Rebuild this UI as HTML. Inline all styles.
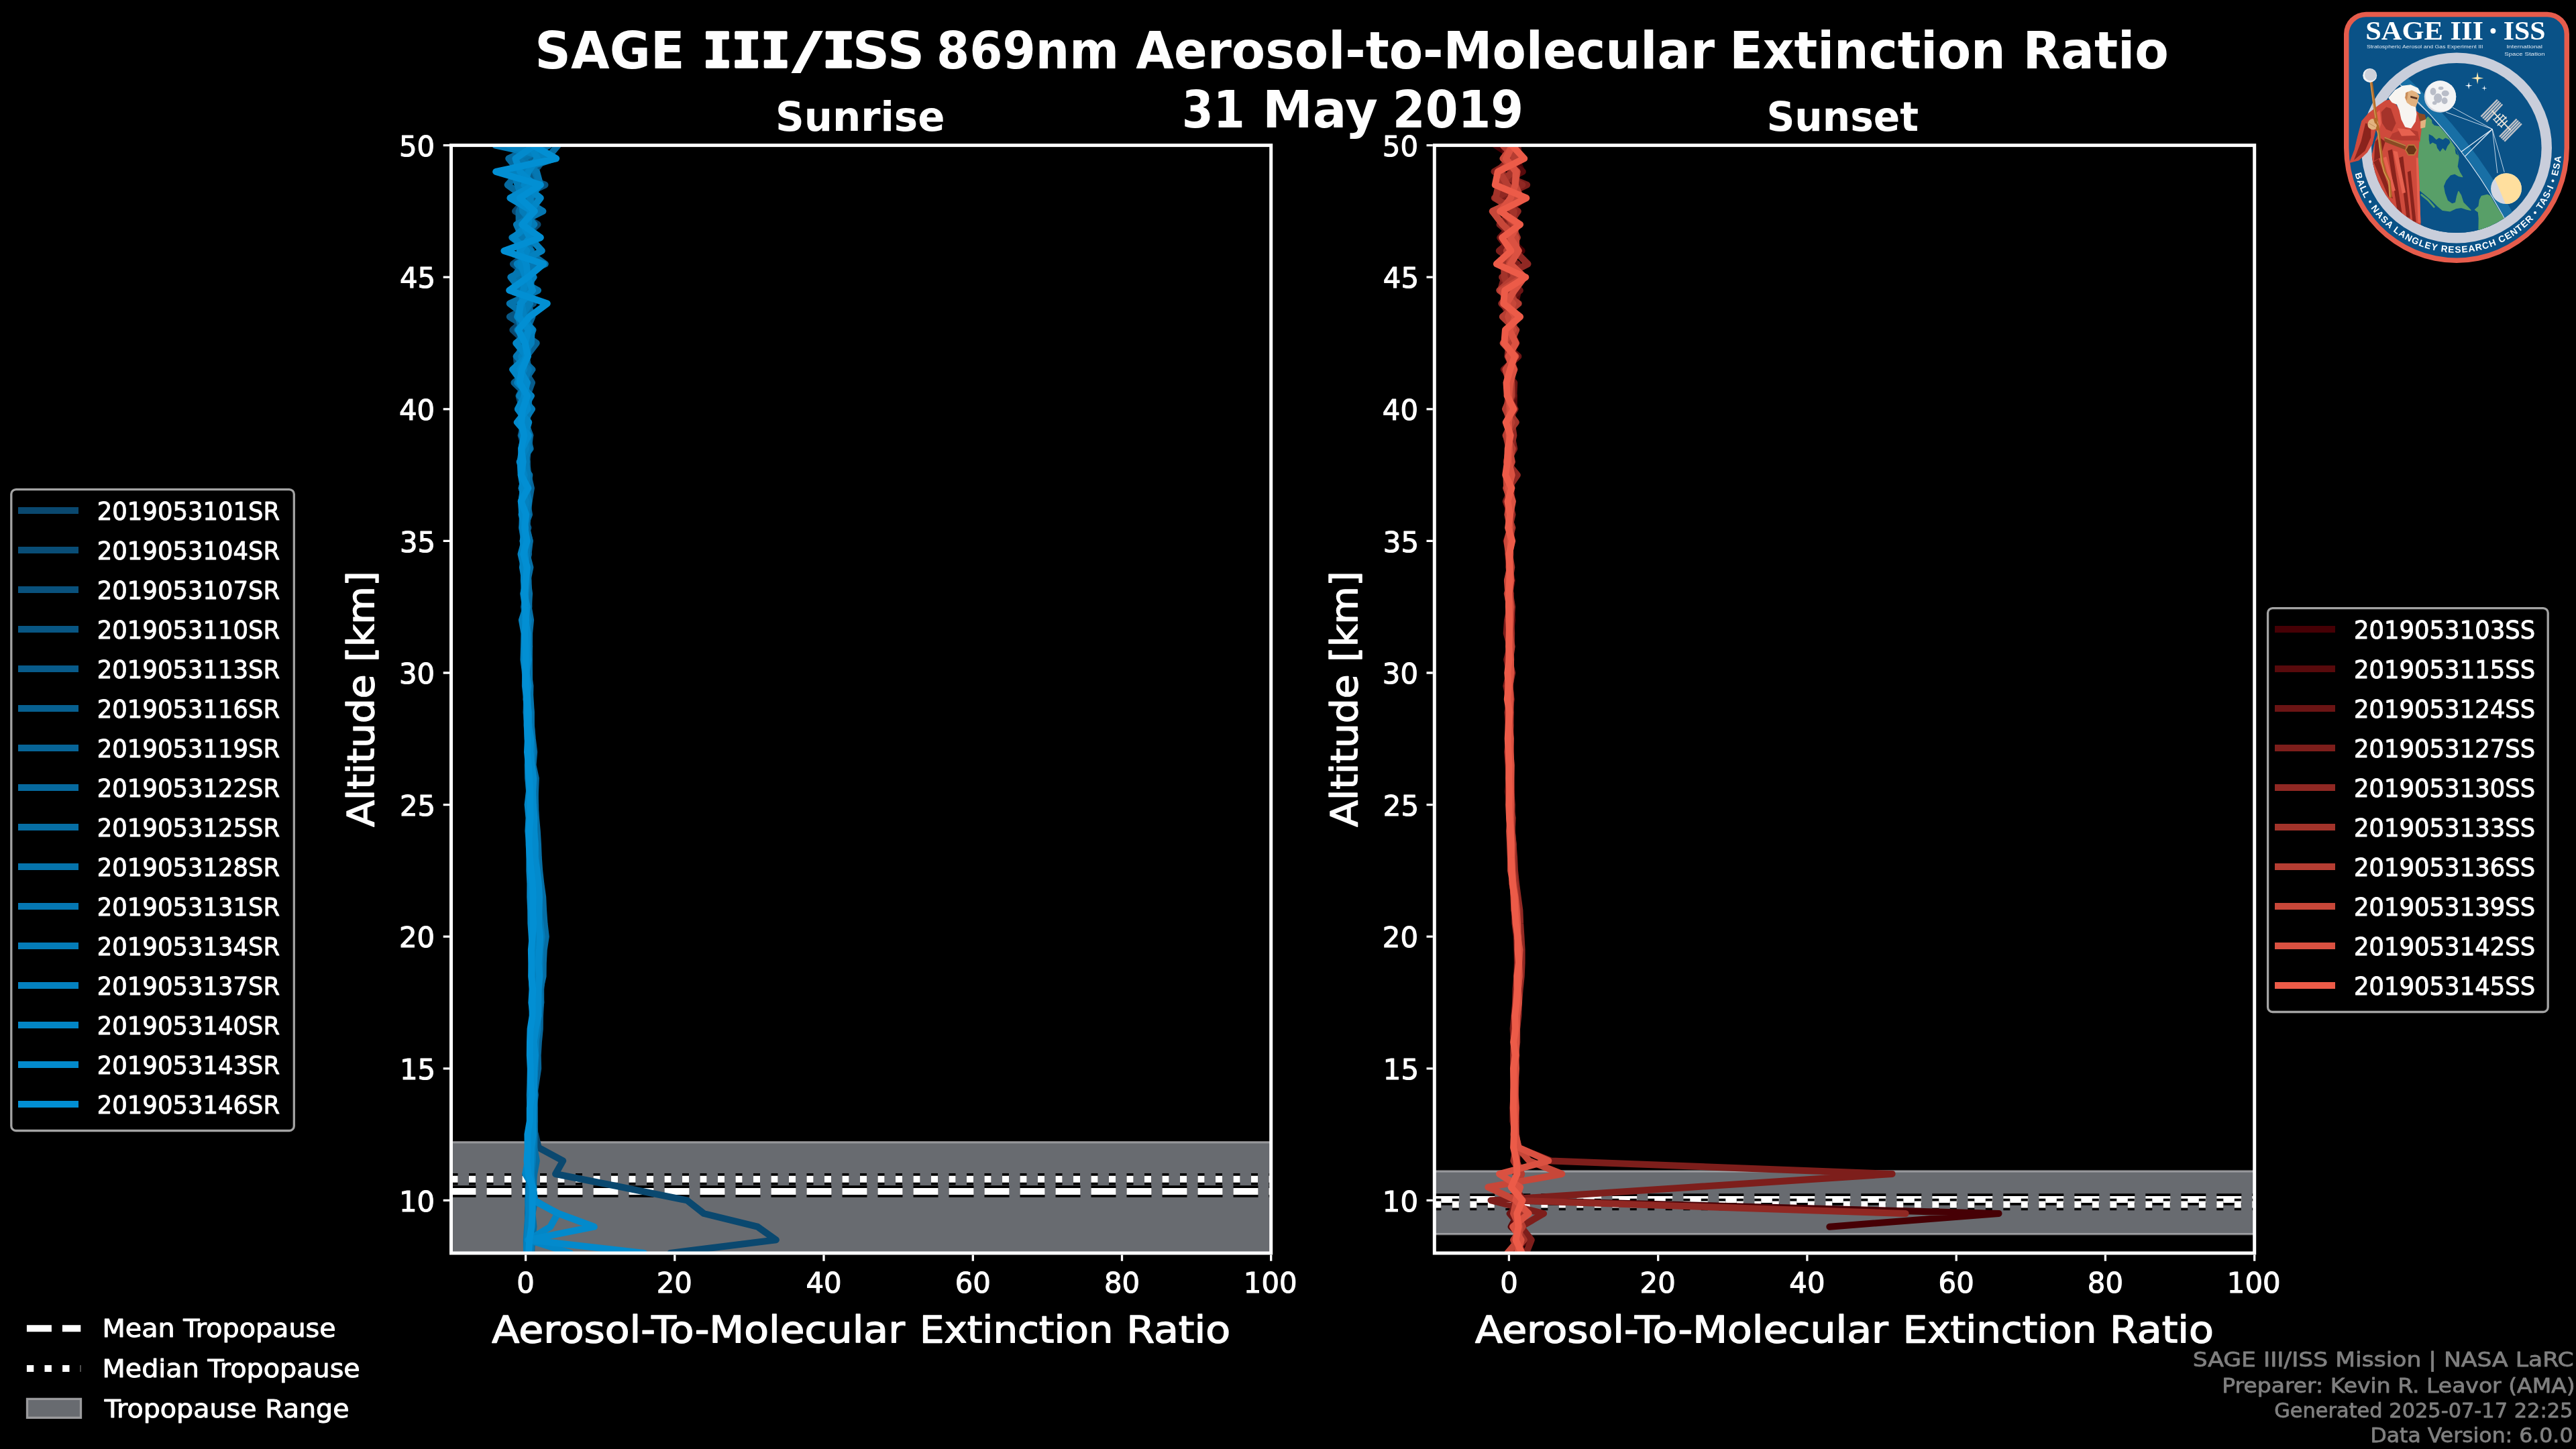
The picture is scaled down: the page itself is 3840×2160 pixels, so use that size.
<!DOCTYPE html>
<html lang="en"><head><meta charset="utf-8"><title>SAGE III/ISS 869nm Aerosol-to-Molecular Extinction Ratio</title>
<style>html,body{margin:0;padding:0;background:#000;overflow:hidden}svg{display:block}text{font-family:"DejaVu Sans", "Liberation Sans", sans-serif}</style></head>
<body><svg width="3840" height="2160" viewBox="0 0 3840 2160">
<rect width="3840" height="2160" fill="#000"/>
<clipPath id="clipL"><rect x="672.5" y="216.6" width="1222.2" height="1651.4"/></clipPath>
<g clip-path="url(#clipL)">
<rect x="662.5" y="1702.7" width="1242.2" height="197.3" fill="#686b70"/>
<path d="M662.5 1702.7H1904.7M662.5 1900H1904.7" stroke="#cdcdd0" stroke-opacity="0.6" stroke-width="3.33" fill="none"/>
<path d="M672.5 1776.0H1894.7" stroke="#000" stroke-width="17.5" stroke-dasharray="37 16" fill="none"/>
<path d="M672.5 1776.0H1894.7" stroke="#fff" stroke-width="10" stroke-dasharray="37 16" fill="none"/>
<path d="M672.5 1757.7H1894.7" stroke="#000" stroke-width="17.5" stroke-dasharray="10 16.5" fill="none"/>
<path d="M672.5 1757.7H1894.7" stroke="#fff" stroke-width="10" stroke-dasharray="10 16.5" fill="none"/>
<g fill="none" stroke-width="10" stroke-linejoin="round" stroke-linecap="round">
<polyline points="999.2,1868.0 1156.9,1848.3 1129.2,1828.7 1049.2,1809.0 1024.2,1789.4 926.9,1769.7 828.1,1750.0 839.2,1730.4 802.7,1710.7 798.1,1691.1 790.8,1671.4 791.8,1651.7 791.4,1632.1 793.5,1612.4 795.7,1592.8 795.6,1573.1 796.9,1553.4 796.7,1533.8 797.1,1514.1 797.4,1494.5 800.3,1474.8 799.2,1455.2 801.7,1435.5 802.2,1415.8 803.4,1396.2 799.8,1376.5 800.0,1356.9 797.7,1337.2 796.0,1317.5 794.0,1297.9 793.1,1278.2 791.6,1258.6 790.2,1238.9 790.6,1219.2 788.0,1199.6 789.2,1179.9 789.3,1160.3 787.0,1140.6 788.9,1120.9 789.5,1101.3 788.6,1081.6 787.8,1062.0 787.9,1042.3 787.9,1022.6 784.2,1003.0 787.8,983.3 784.3,963.7 783.9,944.0 787.1,924.3 782.8,904.7 781.2,885.0 783.4,865.4 783.4,845.7 782.1,826.0 784.2,806.4 781.0,786.7 783.6,767.1 784.2,747.4 778.8,727.7 784.0,708.1 779.5,688.4 782.7,668.8 776.5,649.1 781.3,629.5 779.7,609.8 785.9,590.1 785.3,570.5 772.7,550.8 781.0,531.2 785.4,511.5 764.3,491.8 786.1,472.2 779.2,452.5 794.6,432.9 782.4,413.2 779.3,393.5 780.4,373.9 780.4,354.2 801.5,334.6 768.0,314.9 786.2,295.2 788.2,275.6 780.2,255.9 782.9,236.3 763.9,216.6" stroke="#0a486f"/>
<polyline points="785.6,1868.0 785.4,1848.3 787.3,1828.7 788.2,1809.0 789.0,1789.4 789.9,1769.7 789.7,1750.0 789.9,1730.4 791.0,1710.7 791.8,1691.1 791.9,1671.4 792.8,1651.7 793.3,1632.1 792.5,1612.4 794.0,1592.8 795.7,1573.1 796.2,1553.4 799.4,1533.8 797.6,1514.1 800.8,1494.5 800.6,1474.8 800.8,1455.2 802.3,1435.5 804.4,1415.8 805.9,1396.2 803.7,1376.5 802.6,1356.9 798.6,1337.2 799.4,1317.5 798.3,1297.9 795.5,1278.2 794.6,1258.6 793.9,1238.9 792.7,1219.2 791.9,1199.6 791.0,1179.9 789.8,1160.3 789.3,1140.6 789.9,1120.9 786.6,1101.3 785.6,1081.6 785.9,1062.0 784.6,1042.3 785.0,1022.6 782.7,1003.0 783.8,983.3 782.4,963.7 782.4,944.0 783.3,924.3 781.2,904.7 783.7,885.0 782.6,865.4 786.9,845.7 778.8,826.0 786.6,806.4 780.1,786.7 782.4,767.1 777.1,747.4 781.6,727.7 783.0,708.1 779.8,688.4 782.6,668.8 780.6,649.1 787.0,629.5 778.9,609.8 773.4,590.1 783.8,570.5 771.7,550.8 769.6,531.2 786.3,511.5 790.9,491.8 780.7,472.2 775.2,452.5 778.2,432.9 795.6,413.2 778.2,393.5 784.6,373.9 780.5,354.2 784.4,334.6 793.2,314.9 786.7,295.2 785.4,275.6 764.4,255.9 802.4,236.3 764.0,216.6" stroke="#094d76"/>
<polyline points="788.1,1868.0 787.4,1848.3 789.8,1828.7 788.2,1809.0 788.7,1789.4 790.2,1769.7 792.0,1750.0 791.7,1730.4 791.2,1710.7 791.1,1691.1 790.3,1671.4 791.5,1651.7 792.9,1632.1 791.2,1612.4 792.7,1592.8 793.5,1573.1 795.0,1553.4 794.3,1533.8 795.2,1514.1 796.5,1494.5 798.4,1474.8 801.6,1455.2 801.5,1435.5 803.3,1415.8 803.9,1396.2 803.3,1376.5 803.5,1356.9 801.4,1337.2 799.6,1317.5 797.9,1297.9 797.1,1278.2 796.3,1258.6 794.7,1238.9 794.1,1219.2 792.8,1199.6 790.4,1179.9 792.0,1160.3 788.6,1140.6 789.0,1120.9 788.1,1101.3 789.6,1081.6 787.9,1062.0 786.0,1042.3 784.5,1022.6 785.2,1003.0 785.0,983.3 782.9,963.7 786.6,944.0 783.8,924.3 785.2,904.7 781.6,885.0 782.8,865.4 780.8,845.7 788.1,826.0 779.6,806.4 787.4,786.7 778.2,767.1 784.4,747.4 777.5,727.7 784.9,708.1 786.0,688.4 778.5,668.8 790.4,649.1 781.5,629.5 779.6,609.8 782.9,590.1 781.7,570.5 784.5,550.8 780.0,531.2 778.9,511.5 781.8,491.8 774.5,472.2 775.3,452.5 785.8,432.9 790.5,413.2 764.9,393.5 792.7,373.9 772.2,354.2 777.3,334.6 796.8,314.9 770.2,295.2 812.5,275.6 755.2,255.9 804.7,236.3 770.4,216.6" stroke="#09517c"/>
<polyline points="786.7,1868.0 786.8,1848.3 788.2,1828.7 787.5,1809.0 787.9,1789.4 787.6,1769.7 790.5,1750.0 791.1,1730.4 791.9,1710.7 791.8,1691.1 791.6,1671.4 791.7,1651.7 794.0,1632.1 792.7,1612.4 794.1,1592.8 795.0,1573.1 794.7,1553.4 796.0,1533.8 796.4,1514.1 797.6,1494.5 797.6,1474.8 798.3,1455.2 799.3,1435.5 800.1,1415.8 802.6,1396.2 802.7,1376.5 803.0,1356.9 803.1,1337.2 800.3,1317.5 800.1,1297.9 800.6,1278.2 796.8,1258.6 795.9,1238.9 796.0,1219.2 796.3,1199.6 792.5,1179.9 790.8,1160.3 789.8,1140.6 788.5,1120.9 786.8,1101.3 785.9,1081.6 784.6,1062.0 785.0,1042.3 785.0,1022.6 783.4,1003.0 783.1,983.3 784.0,963.7 782.1,944.0 783.5,924.3 783.4,904.7 783.0,885.0 783.5,865.4 781.9,845.7 780.7,826.0 781.4,806.4 778.0,786.7 779.0,767.1 784.7,747.4 780.2,727.7 783.5,708.1 777.1,688.4 784.8,668.8 779.9,649.1 781.2,629.5 774.8,609.8 787.6,590.1 788.0,570.5 785.0,550.8 781.3,531.2 786.9,511.5 789.7,491.8 759.8,472.2 795.0,452.5 784.5,432.9 791.2,413.2 798.9,393.5 790.1,373.9 785.3,354.2 787.0,334.6 791.3,314.9 771.7,295.2 787.4,275.6 796.3,255.9 811.5,236.3 766.0,216.6" stroke="#085683"/>
<polyline points="785.5,1868.0 787.0,1848.3 786.9,1828.7 787.0,1809.0 788.7,1789.4 789.5,1769.7 789.9,1750.0 791.3,1730.4 793.2,1710.7 795.4,1691.1 793.5,1671.4 794.8,1651.7 795.2,1632.1 795.3,1612.4 795.8,1592.8 795.6,1573.1 796.0,1553.4 795.8,1533.8 797.1,1514.1 795.2,1494.5 795.7,1474.8 796.2,1455.2 797.4,1435.5 796.7,1415.8 798.3,1396.2 795.9,1376.5 796.3,1356.9 796.0,1337.2 796.0,1317.5 794.0,1297.9 795.2,1278.2 793.8,1258.6 792.8,1238.9 792.9,1219.2 791.6,1199.6 793.1,1179.9 793.7,1160.3 792.2,1140.6 790.6,1120.9 790.7,1101.3 790.5,1081.6 790.1,1062.0 790.0,1042.3 790.6,1022.6 787.2,1003.0 788.4,983.3 786.7,963.7 788.8,944.0 781.9,924.3 785.6,904.7 783.7,885.0 786.3,865.4 784.3,845.7 786.0,826.0 779.8,806.4 786.9,786.7 780.9,767.1 783.2,747.4 785.8,727.7 781.5,708.1 780.5,688.4 787.0,668.8 779.3,649.1 785.3,629.5 786.5,609.8 785.8,590.1 793.0,570.5 780.5,550.8 777.8,531.2 782.4,511.5 778.0,491.8 776.7,472.2 789.9,452.5 774.7,432.9 769.2,413.2 797.6,393.5 776.1,373.9 791.6,354.2 781.6,334.6 792.9,314.9 780.8,295.2 806.7,275.6 784.6,255.9 796.7,236.3 791.9,216.6" stroke="#085b8a"/>
<polyline points="787.0,1868.0 788.5,1848.3 788.9,1828.7 792.0,1809.0 792.4,1789.4 795.7,1769.7 794.3,1750.0 795.3,1730.4 796.5,1710.7 797.2,1691.1 796.6,1671.4 796.7,1651.7 795.6,1632.1 794.1,1612.4 794.7,1592.8 793.3,1573.1 792.7,1553.4 793.6,1533.8 795.3,1514.1 795.1,1494.5 795.3,1474.8 794.7,1455.2 795.5,1435.5 794.2,1415.8 796.5,1396.2 796.6,1376.5 795.2,1356.9 796.3,1337.2 793.4,1317.5 792.6,1297.9 791.6,1278.2 791.9,1258.6 792.3,1238.9 792.7,1219.2 794.6,1199.6 794.5,1179.9 791.7,1160.3 792.8,1140.6 791.0,1120.9 791.4,1101.3 790.5,1081.6 791.0,1062.0 788.9,1042.3 787.2,1022.6 786.2,1003.0 787.1,983.3 784.6,963.7 786.1,944.0 784.6,924.3 783.9,904.7 787.2,885.0 781.5,865.4 785.5,845.7 781.3,826.0 787.4,806.4 784.1,786.7 777.4,767.1 782.5,747.4 784.5,727.7 785.1,708.1 785.1,688.4 781.1,668.8 783.3,649.1 782.8,629.5 779.5,609.8 786.6,590.1 766.4,570.5 790.9,550.8 771.5,531.2 793.5,511.5 773.9,491.8 778.7,472.2 788.1,452.5 773.3,432.9 780.2,413.2 771.1,393.5 790.7,373.9 788.1,354.2 795.4,334.6 776.3,314.9 799.9,295.2 774.9,275.6 786.1,255.9 792.2,236.3 799.6,216.6" stroke="#076090"/>
<polyline points="785.6,1868.0 788.3,1848.3 788.2,1828.7 789.9,1809.0 791.0,1789.4 789.9,1769.7 792.1,1750.0 793.8,1730.4 794.4,1710.7 794.9,1691.1 796.7,1671.4 796.7,1651.7 796.2,1632.1 799.2,1612.4 802.2,1592.8 801.7,1573.1 802.9,1553.4 804.8,1533.8 805.0,1514.1 806.2,1494.5 806.2,1474.8 808.1,1455.2 806.0,1435.5 805.7,1415.8 805.0,1396.2 804.4,1376.5 803.2,1356.9 802.9,1337.2 801.2,1317.5 799.7,1297.9 798.8,1278.2 797.5,1258.6 796.7,1238.9 798.3,1219.2 798.2,1199.6 797.3,1179.9 794.2,1160.3 794.1,1140.6 791.0,1120.9 791.4,1101.3 791.2,1081.6 789.1,1062.0 789.4,1042.3 787.6,1022.6 788.2,1003.0 784.3,983.3 784.1,963.7 786.0,944.0 783.8,924.3 788.4,904.7 787.9,885.0 787.6,865.4 785.5,845.7 787.5,826.0 789.8,806.4 785.1,786.7 786.7,767.1 788.6,747.4 791.9,727.7 787.3,708.1 785.3,688.4 786.8,668.8 787.1,649.1 781.6,629.5 782.0,609.8 788.0,590.1 780.8,570.5 787.7,550.8 784.7,531.2 799.7,511.5 770.8,491.8 791.0,472.2 781.1,452.5 791.1,432.9 791.9,413.2 777.1,393.5 780.3,373.9 768.4,354.2 782.8,334.6 795.1,314.9 783.7,295.2 774.4,275.6 788.6,255.9 787.6,236.3 797.4,216.6" stroke="#076497"/>
<polyline points="788.4,1868.0 789.9,1848.3 789.2,1828.7 791.8,1809.0 789.9,1789.4 792.7,1769.7 792.3,1750.0 793.7,1730.4 794.0,1710.7 794.6,1691.1 794.4,1671.4 794.4,1651.7 794.7,1632.1 794.7,1612.4 795.2,1592.8 795.9,1573.1 797.0,1553.4 798.1,1533.8 798.8,1514.1 801.4,1494.5 800.5,1474.8 802.9,1455.2 805.5,1435.5 806.5,1415.8 809.9,1396.2 807.3,1376.5 808.9,1356.9 805.1,1337.2 801.9,1317.5 803.3,1297.9 800.3,1278.2 801.0,1258.6 798.5,1238.9 798.0,1219.2 797.3,1199.6 798.0,1179.9 798.8,1160.3 794.5,1140.6 796.2,1120.9 793.8,1101.3 792.0,1081.6 790.6,1062.0 787.8,1042.3 788.3,1022.6 783.9,1003.0 787.8,983.3 783.4,963.7 786.3,944.0 784.8,924.3 781.5,904.7 785.8,885.0 786.3,865.4 787.8,845.7 784.7,826.0 785.6,806.4 781.3,786.7 789.0,767.1 785.5,747.4 782.7,727.7 782.6,708.1 777.9,688.4 787.8,668.8 790.1,649.1 783.3,629.5 790.4,609.8 784.3,590.1 780.0,570.5 793.4,550.8 773.5,531.2 789.2,511.5 785.1,491.8 793.4,472.2 787.0,452.5 789.9,432.9 775.9,413.2 775.9,393.5 789.4,373.9 774.1,354.2 773.7,334.6 773.5,314.9 783.2,295.2 756.6,275.6 774.3,255.9 758.2,236.3 799.9,216.6" stroke="#06699e"/>
<polyline points="792.2,1868.0 793.0,1848.3 795.5,1828.7 793.4,1809.0 797.4,1789.4 794.4,1769.7 796.2,1750.0 799.8,1730.4 796.3,1710.7 796.0,1691.1 796.5,1671.4 795.6,1651.7 797.8,1632.1 795.5,1612.4 796.8,1592.8 797.8,1573.1 799.0,1553.4 801.5,1533.8 802.1,1514.1 806.3,1494.5 805.1,1474.8 809.6,1455.2 809.8,1435.5 810.8,1415.8 813.8,1396.2 811.5,1376.5 810.1,1356.9 809.2,1337.2 806.4,1317.5 804.2,1297.9 802.8,1278.2 802.0,1258.6 800.8,1238.9 799.0,1219.2 797.4,1199.6 796.8,1179.9 795.9,1160.3 794.1,1140.6 793.6,1120.9 793.1,1101.3 791.8,1081.6 791.8,1062.0 790.6,1042.3 788.8,1022.6 789.0,1003.0 788.9,983.3 789.0,963.7 789.1,944.0 791.1,924.3 787.7,904.7 789.1,885.0 786.3,865.4 790.4,845.7 785.3,826.0 789.7,806.4 784.4,786.7 786.9,767.1 781.2,747.4 786.2,727.7 789.3,708.1 776.3,688.4 790.6,668.8 785.5,649.1 783.9,629.5 787.4,609.8 788.6,590.1 778.4,570.5 790.0,550.8 778.0,531.2 784.4,511.5 781.1,491.8 787.4,472.2 786.3,452.5 789.7,432.9 770.0,413.2 812.8,393.5 784.4,373.9 793.8,354.2 776.6,334.6 787.9,314.9 791.5,295.2 789.1,275.6 753.9,255.9 815.3,236.3 831.8,216.6" stroke="#066ea4"/>
<polyline points="786.0,1868.0 787.6,1848.3 787.3,1828.7 789.6,1809.0 789.1,1789.4 789.1,1769.7 791.0,1750.0 792.3,1730.4 790.8,1710.7 791.9,1691.1 792.0,1671.4 793.1,1651.7 792.5,1632.1 794.5,1612.4 794.2,1592.8 796.6,1573.1 795.7,1553.4 797.5,1533.8 797.5,1514.1 800.5,1494.5 803.6,1474.8 802.6,1455.2 802.8,1435.5 804.1,1415.8 807.2,1396.2 803.3,1376.5 805.2,1356.9 803.2,1337.2 802.1,1317.5 799.3,1297.9 798.4,1278.2 794.8,1258.6 794.4,1238.9 796.2,1219.2 795.1,1199.6 793.7,1179.9 792.1,1160.3 792.4,1140.6 792.8,1120.9 791.2,1101.3 791.2,1081.6 791.6,1062.0 789.7,1042.3 789.4,1022.6 788.8,1003.0 785.6,983.3 789.2,963.7 785.5,944.0 783.7,924.3 785.3,904.7 781.5,885.0 783.0,865.4 782.5,845.7 783.3,826.0 782.9,806.4 782.5,786.7 783.7,767.1 778.5,747.4 787.9,727.7 777.9,708.1 785.0,688.4 781.8,668.8 778.9,649.1 778.5,629.5 780.2,609.8 783.7,590.1 784.0,570.5 782.7,550.8 773.5,531.2 778.2,511.5 774.8,491.8 785.6,472.2 759.7,452.5 802.0,432.9 765.5,413.2 780.1,393.5 785.4,373.9 791.2,354.2 782.7,334.6 797.0,314.9 779.5,295.2 805.3,275.6 797.0,255.9 779.1,236.3 818.2,216.6" stroke="#0573ab"/>
<polyline points="785.1,1868.0 784.8,1848.3 786.1,1828.7 787.8,1809.0 787.1,1789.4 788.8,1769.7 791.3,1750.0 791.1,1730.4 792.1,1710.7 794.0,1691.1 793.3,1671.4 795.4,1651.7 795.3,1632.1 795.8,1612.4 797.5,1592.8 798.7,1573.1 799.0,1553.4 798.2,1533.8 800.6,1514.1 799.2,1494.5 801.8,1474.8 801.4,1455.2 802.7,1435.5 804.2,1415.8 804.9,1396.2 803.1,1376.5 800.7,1356.9 797.1,1337.2 796.2,1317.5 794.7,1297.9 794.7,1278.2 790.7,1258.6 790.6,1238.9 789.8,1219.2 789.2,1199.6 789.3,1179.9 787.2,1160.3 786.8,1140.6 788.0,1120.9 786.7,1101.3 786.6,1081.6 784.8,1062.0 785.5,1042.3 784.3,1022.6 784.4,1003.0 783.3,983.3 782.6,963.7 782.7,944.0 781.8,924.3 783.1,904.7 780.2,885.0 785.0,865.4 780.2,845.7 785.2,826.0 780.3,806.4 781.4,786.7 786.1,767.1 779.1,747.4 779.9,727.7 780.9,708.1 781.1,688.4 788.7,668.8 777.6,649.1 785.6,629.5 772.0,609.8 784.2,590.1 780.7,570.5 787.8,550.8 769.9,531.2 786.6,511.5 777.6,491.8 772.7,472.2 783.5,452.5 776.8,432.9 761.3,413.2 798.6,393.5 781.5,373.9 778.8,354.2 769.9,334.6 809.4,314.9 776.8,295.2 805.4,275.6 800.0,255.9 769.8,236.3 809.3,216.6" stroke="#0577b2"/>
<polyline points="791.0,1868.0 791.8,1848.3 790.7,1828.7 790.8,1809.0 794.3,1789.4 794.2,1769.7 792.0,1750.0 793.8,1730.4 794.7,1710.7 795.6,1691.1 794.8,1671.4 793.4,1651.7 795.6,1632.1 795.6,1612.4 797.3,1592.8 796.4,1573.1 798.4,1553.4 801.4,1533.8 801.3,1514.1 804.2,1494.5 803.0,1474.8 804.6,1455.2 805.0,1435.5 805.4,1415.8 807.6,1396.2 805.5,1376.5 802.8,1356.9 800.0,1337.2 800.1,1317.5 800.1,1297.9 799.0,1278.2 798.2,1258.6 796.6,1238.9 795.6,1219.2 794.2,1199.6 793.2,1179.9 793.2,1160.3 791.4,1140.6 793.5,1120.9 792.1,1101.3 788.4,1081.6 787.7,1062.0 786.8,1042.3 785.3,1022.6 784.4,1003.0 788.2,983.3 785.0,963.7 784.8,944.0 787.9,924.3 783.4,904.7 784.0,885.0 785.5,865.4 783.6,845.7 785.0,826.0 785.8,806.4 782.5,786.7 784.1,767.1 788.2,747.4 784.1,727.7 785.7,708.1 783.9,688.4 784.6,668.8 788.0,649.1 780.2,629.5 793.0,609.8 774.3,590.1 786.2,570.5 774.8,550.8 786.4,531.2 787.0,511.5 794.5,491.8 776.6,472.2 790.2,452.5 781.2,432.9 782.3,413.2 776.6,393.5 791.4,373.9 763.3,354.2 796.4,334.6 779.0,314.9 778.2,295.2 771.5,275.6 766.1,255.9 827.4,236.3 738.5,216.6" stroke="#047cb8"/>
<polyline points="784.8,1868.0 786.0,1848.3 787.3,1828.7 787.8,1809.0 788.4,1789.4 789.7,1769.7 791.7,1750.0 790.4,1730.4 791.2,1710.7 791.1,1691.1 790.0,1671.4 790.2,1651.7 789.8,1632.1 790.5,1612.4 791.1,1592.8 793.2,1573.1 791.8,1553.4 794.6,1533.8 796.0,1514.1 798.5,1494.5 798.9,1474.8 797.2,1455.2 798.5,1435.5 799.0,1415.8 800.5,1396.2 797.5,1376.5 798.3,1356.9 797.3,1337.2 794.8,1317.5 795.2,1297.9 794.6,1278.2 791.7,1258.6 793.6,1238.9 791.5,1219.2 791.5,1199.6 791.7,1179.9 790.9,1160.3 789.4,1140.6 789.9,1120.9 786.9,1101.3 788.4,1081.6 785.9,1062.0 785.1,1042.3 782.9,1022.6 783.1,1003.0 780.5,983.3 781.1,963.7 781.5,944.0 777.9,924.3 784.3,904.7 782.2,885.0 780.9,865.4 781.1,845.7 776.5,826.0 781.9,806.4 778.5,786.7 781.1,767.1 784.0,747.4 777.7,727.7 782.2,708.1 774.6,688.4 783.9,668.8 780.6,649.1 779.5,629.5 779.8,609.8 791.9,590.1 771.2,570.5 781.5,550.8 777.2,531.2 791.9,511.5 792.5,491.8 780.8,472.2 778.0,452.5 782.4,432.9 795.2,413.2 770.7,393.5 807.8,373.9 789.7,354.2 782.5,334.6 793.6,314.9 790.1,295.2 804.6,275.6 754.8,255.9 818.2,236.3 758.1,216.6" stroke="#0481bf"/>
<polyline points="850.3,1868.0 788.1,1848.3 820.3,1828.7 831.4,1809.0 796.9,1789.4 794.7,1769.7 783.2,1750.0 787.0,1730.4 788.6,1710.7 790.0,1691.1 790.4,1671.4 792.1,1651.7 792.4,1632.1 793.8,1612.4 795.1,1592.8 793.2,1573.1 793.5,1553.4 793.0,1533.8 794.9,1514.1 792.3,1494.5 793.5,1474.8 792.6,1455.2 794.1,1435.5 793.9,1415.8 792.7,1396.2 791.4,1376.5 791.2,1356.9 790.3,1337.2 790.4,1317.5 789.4,1297.9 789.4,1278.2 789.1,1258.6 787.4,1238.9 788.5,1219.2 786.6,1199.6 788.9,1179.9 788.5,1160.3 788.0,1140.6 789.0,1120.9 787.1,1101.3 788.4,1081.6 787.1,1062.0 785.4,1042.3 786.0,1022.6 784.7,1003.0 784.8,983.3 783.5,963.7 784.5,944.0 782.2,924.3 784.0,904.7 781.0,885.0 782.5,865.4 778.9,845.7 781.9,826.0 781.5,806.4 779.7,786.7 778.6,767.1 777.1,747.4 782.3,727.7 780.1,708.1 778.0,688.4 777.2,668.8 782.4,649.1 788.2,629.5 772.0,609.8 781.9,590.1 778.7,570.5 764.2,550.8 785.5,531.2 769.2,511.5 792.6,491.8 771.2,472.2 777.9,452.5 780.1,432.9 783.7,413.2 776.0,393.5 785.5,373.9 765.7,354.2 787.6,334.6 790.3,314.9 805.8,295.2 781.3,275.6 787.5,255.9 801.0,236.3 791.3,216.6" stroke="#0386c6"/>
<polyline points="960.3,1868.0 786.9,1848.3 885.8,1828.7 832.5,1809.0 794.7,1789.4 793.6,1769.7 790.7,1750.0 791.5,1730.4 792.1,1710.7 794.6,1691.1 794.9,1671.4 795.3,1651.7 795.8,1632.1 796.3,1612.4 796.2,1592.8 797.8,1573.1 795.8,1553.4 798.5,1533.8 802.7,1514.1 801.9,1494.5 802.5,1474.8 804.2,1455.2 802.7,1435.5 804.0,1415.8 805.1,1396.2 802.9,1376.5 803.3,1356.9 804.0,1337.2 802.9,1317.5 800.6,1297.9 797.3,1278.2 797.6,1258.6 796.0,1238.9 796.5,1219.2 794.8,1199.6 794.1,1179.9 795.2,1160.3 792.7,1140.6 790.4,1120.9 791.2,1101.3 787.8,1081.6 788.0,1062.0 784.6,1042.3 787.3,1022.6 784.7,1003.0 786.9,983.3 786.1,963.7 786.7,944.0 783.0,924.3 785.8,904.7 781.3,885.0 783.7,865.4 784.5,845.7 782.3,826.0 779.6,806.4 783.3,786.7 778.1,767.1 777.3,747.4 780.2,727.7 776.7,708.1 775.6,688.4 778.3,668.8 787.8,649.1 770.8,629.5 786.5,609.8 781.6,590.1 785.6,570.5 774.9,550.8 785.0,531.2 782.9,511.5 787.9,491.8 773.7,472.2 775.6,452.5 794.1,432.9 786.7,413.2 784.6,393.5 774.7,373.9 789.6,354.2 779.2,334.6 793.7,314.9 760.4,295.2 796.1,275.6 775.1,255.9 768.4,236.3 796.8,216.6" stroke="#038acc"/>
<polyline points="788.1,1868.0 789.2,1848.3 792.5,1828.7 793.6,1809.0 793.6,1789.4 793.6,1769.7 787.6,1750.0 785.5,1730.4 786.7,1710.7 786.4,1691.1 789.8,1671.4 789.8,1651.7 792.7,1632.1 790.9,1612.4 790.8,1592.8 789.8,1573.1 790.0,1553.4 790.6,1533.8 793.7,1514.1 793.5,1494.5 794.3,1474.8 792.2,1455.2 792.3,1435.5 791.9,1415.8 793.7,1396.2 795.0,1376.5 794.0,1356.9 794.6,1337.2 793.8,1317.5 791.7,1297.9 789.8,1278.2 788.6,1258.6 789.0,1238.9 790.6,1219.2 790.4,1199.6 790.4,1179.9 789.1,1160.3 787.9,1140.6 786.0,1120.9 786.9,1101.3 785.8,1081.6 786.4,1062.0 786.1,1042.3 784.3,1022.6 783.5,1003.0 783.5,983.3 783.3,963.7 782.3,944.0 784.0,924.3 782.8,904.7 782.3,885.0 783.7,865.4 785.9,845.7 780.1,826.0 785.5,806.4 782.0,786.7 784.2,767.1 776.7,747.4 787.1,727.7 776.8,708.1 779.6,688.4 777.2,668.8 781.3,649.1 777.2,629.5 779.3,609.8 786.2,590.1 774.6,570.5 778.0,550.8 787.0,531.2 782.8,511.5 772.5,491.8 789.2,472.2 815.8,452.5 759.2,432.9 786.9,413.2 810.3,393.5 751.4,373.9 805.8,354.2 778.1,334.6 796.9,314.9 774.7,295.2 805.8,275.6 739.2,255.9 829.2,236.3 794.7,216.6" stroke="#028fd3"/>
</g></g>
<rect x="672.5" y="216.6" width="1222.2" height="1651.4" fill="none" stroke="#fff" stroke-width="5"/>
<path d="M670.0 1789.4h-9.3M670.0 1592.8h-9.3M670.0 1396.2h-9.3M670.0 1199.6h-9.3M670.0 1003.0h-9.3M670.0 806.4h-9.3M670.0 609.8h-9.3M670.0 413.2h-9.3M670.0 216.6h-9.3M783.6 1870.5v9.3M1005.8 1870.5v9.3M1228.0 1870.5v9.3M1450.3 1870.5v9.3M1672.5 1870.5v9.3M1894.7 1870.5v9.3" stroke="#fff" stroke-width="3.3" fill="none"/>
<clipPath id="clipR"><rect x="2138.3" y="216.6" width="1222.4" height="1651.4"/></clipPath>
<g clip-path="url(#clipR)">
<rect x="2128.3" y="1745.8" width="1242.4" height="93.8" fill="#686b70"/>
<path d="M2128.3 1745.8H3370.7M2128.3 1839.6H3370.7" stroke="#cdcdd0" stroke-opacity="0.6" stroke-width="3.33" fill="none"/>
<path d="M2138.3 1788.0H3360.7" stroke="#000" stroke-width="17.5" stroke-dasharray="37 16" fill="none"/>
<path d="M2138.3 1788.0H3360.7" stroke="#fff" stroke-width="10" stroke-dasharray="37 16" fill="none"/>
<path d="M2138.3 1795.5H3360.7" stroke="#000" stroke-width="17.5" stroke-dasharray="10 16.5" fill="none"/>
<path d="M2138.3 1795.5H3360.7" stroke="#fff" stroke-width="10" stroke-dasharray="10 16.5" fill="none"/>
<g fill="none" stroke-width="10" stroke-linejoin="round" stroke-linecap="round">
<polyline points="2727.3,1828.7 2979.5,1809.0 2258.3,1789.4 2262.8,1769.7 2259.7,1750.0 2262.3,1730.4 2256.2,1710.7 2259.6,1691.1 2256.7,1671.4 2258.3,1651.7 2257.1,1632.1 2257.2,1612.4 2258.0,1592.8 2258.5,1573.1 2259.1,1553.4 2260.3,1533.8 2261.5,1514.1 2261.0,1494.5 2262.9,1474.8 2265.8,1455.2 2265.1,1435.5 2264.8,1415.8 2264.8,1396.2 2262.6,1376.5 2260.7,1356.9 2258.1,1337.2 2257.1,1317.5 2255.8,1297.9 2254.9,1278.2 2254.1,1258.6 2253.2,1238.9 2252.8,1219.2 2251.2,1199.6 2251.1,1179.9 2251.4,1160.3 2250.5,1140.6 2250.5,1120.9 2251.3,1101.3 2250.8,1081.6 2251.8,1062.0 2249.0,1042.3 2251.0,1022.6 2249.6,1003.0 2249.3,983.3 2252.2,963.7 2251.0,944.0 2249.5,924.3 2253.4,904.7 2250.5,885.0 2251.2,865.4 2249.6,845.7 2251.0,826.0 2245.2,806.4 2253.0,786.7 2249.9,767.1 2245.3,747.4 2253.1,727.7 2248.5,708.1 2254.2,688.4 2248.4,668.8 2253.2,649.1 2252.7,629.5 2249.1,609.8 2256.2,590.1 2250.2,570.5 2255.6,550.8 2248.9,531.2 2260.7,511.5 2251.9,491.8 2251.1,472.2 2256.5,452.5 2258.3,432.9 2262.3,413.2 2232.7,393.5 2268.6,373.9 2248.1,354.2 2252.4,334.6 2241.1,314.9 2270.0,295.2 2229.7,275.6 2268.9,255.9 2259.9,236.3 2229.6,216.6" stroke="#460005"/>
<polyline points="2254.3,1868.0 2275.1,1848.3 2252.6,1828.7 2263.1,1809.0 2262.4,1789.4 2260.1,1769.7 2264.1,1750.0 2259.6,1730.4 2259.1,1710.7 2259.6,1691.1 2260.5,1671.4 2258.7,1651.7 2258.6,1632.1 2259.4,1612.4 2258.0,1592.8 2260.4,1573.1 2258.1,1553.4 2260.9,1533.8 2261.5,1514.1 2261.8,1494.5 2263.2,1474.8 2263.8,1455.2 2264.6,1435.5 2264.5,1415.8 2263.4,1396.2 2261.4,1376.5 2261.7,1356.9 2259.0,1337.2 2258.3,1317.5 2254.8,1297.9 2255.8,1278.2 2253.7,1258.6 2253.1,1238.9 2253.2,1219.2 2252.9,1199.6 2253.0,1179.9 2252.0,1160.3 2251.8,1140.6 2251.6,1120.9 2252.0,1101.3 2251.4,1081.6 2249.2,1062.0 2252.8,1042.3 2250.4,1022.6 2252.0,1003.0 2250.0,983.3 2250.3,963.7 2251.5,944.0 2254.2,924.3 2253.1,904.7 2250.3,885.0 2253.9,865.4 2249.7,845.7 2248.2,826.0 2253.6,806.4 2252.1,786.7 2251.2,767.1 2253.7,747.4 2252.6,727.7 2248.6,708.1 2249.5,688.4 2253.4,668.8 2251.8,649.1 2252.3,629.5 2256.6,609.8 2257.1,590.1 2248.4,570.5 2256.8,550.8 2253.8,531.2 2253.9,511.5 2256.2,491.8 2246.5,472.2 2258.9,452.5 2263.4,432.9 2252.5,413.2 2246.0,393.5 2259.5,373.9 2259.5,354.2 2251.6,334.6 2246.7,314.9 2272.7,295.2 2231.3,275.6 2269.8,255.9 2245.4,236.3 2242.2,216.6" stroke="#580a0c"/>
<polyline points="2271.2,1868.0 2259.5,1848.3 2267.0,1828.7 2250.7,1809.0 2271.3,1789.4 2257.8,1769.7 2264.3,1750.0 2259.6,1730.4 2258.3,1710.7 2258.9,1691.1 2257.8,1671.4 2258.8,1651.7 2258.6,1632.1 2258.2,1612.4 2258.0,1592.8 2259.6,1573.1 2258.7,1553.4 2261.0,1533.8 2262.0,1514.1 2262.1,1494.5 2262.6,1474.8 2264.7,1455.2 2264.9,1435.5 2265.3,1415.8 2263.1,1396.2 2261.8,1376.5 2259.8,1356.9 2258.6,1337.2 2254.3,1317.5 2254.5,1297.9 2252.9,1278.2 2253.3,1258.6 2251.4,1238.9 2251.8,1219.2 2251.0,1199.6 2250.6,1179.9 2251.4,1160.3 2251.0,1140.6 2250.2,1120.9 2251.5,1101.3 2250.7,1081.6 2250.2,1062.0 2251.0,1042.3 2250.1,1022.6 2251.4,1003.0 2249.7,983.3 2249.6,963.7 2252.3,944.0 2250.4,924.3 2252.4,904.7 2250.5,885.0 2249.9,865.4 2249.9,845.7 2250.2,826.0 2252.9,806.4 2250.2,786.7 2247.9,767.1 2252.8,747.4 2246.4,727.7 2254.1,708.1 2246.4,688.4 2249.3,668.8 2251.6,649.1 2249.6,629.5 2245.6,609.8 2256.4,590.1 2257.3,570.5 2241.9,550.8 2263.4,531.2 2240.9,511.5 2252.7,491.8 2248.8,472.2 2242.1,452.5 2265.9,432.9 2248.9,413.2 2246.1,393.5 2250.7,373.9 2236.2,354.2 2254.3,334.6 2259.5,314.9 2229.8,295.2 2257.8,275.6 2251.0,255.9 2264.4,236.3 2262.3,216.6" stroke="#6b1414"/>
<polyline points="2275.0,1868.0 2282.8,1848.3 2267.2,1828.7 2301.1,1809.0 2222.8,1789.4 2520.6,1769.7 2820.6,1750.0 2311.7,1730.4 2262.8,1710.7 2259.4,1691.1 2255.4,1671.4 2255.4,1651.7 2256.5,1632.1 2257.0,1612.4 2257.1,1592.8 2256.3,1573.1 2256.8,1553.4 2255.6,1533.8 2257.4,1514.1 2259.1,1494.5 2259.5,1474.8 2261.3,1455.2 2261.9,1435.5 2261.6,1415.8 2260.9,1396.2 2258.4,1376.5 2257.7,1356.9 2257.2,1337.2 2254.6,1317.5 2254.0,1297.9 2251.8,1278.2 2251.5,1258.6 2251.2,1238.9 2250.2,1219.2 2250.2,1199.6 2248.2,1179.9 2249.7,1160.3 2248.5,1140.6 2247.1,1120.9 2249.8,1101.3 2248.6,1081.6 2247.5,1062.0 2249.7,1042.3 2245.3,1022.6 2250.0,1003.0 2246.2,983.3 2251.0,963.7 2245.7,944.0 2247.0,924.3 2251.0,904.7 2252.1,885.0 2247.0,865.4 2252.3,845.7 2248.3,826.0 2249.7,806.4 2251.0,786.7 2252.7,767.1 2244.7,747.4 2253.5,727.7 2248.9,708.1 2246.7,688.4 2257.3,668.8 2253.2,649.1 2246.1,629.5 2258.5,609.8 2246.6,590.1 2251.7,570.5 2256.0,550.8 2248.2,531.2 2252.8,511.5 2257.8,491.8 2254.1,472.2 2253.4,452.5 2236.8,432.9 2242.5,413.2 2262.0,393.5 2234.8,373.9 2258.0,354.2 2235.5,334.6 2255.4,314.9 2235.0,295.2 2276.2,275.6 2227.5,255.9 2260.6,236.3 2244.9,216.6" stroke="#7d1e1b"/>
<polyline points="2840.6,1809.0 2256.1,1789.4 2260.5,1769.7 2261.5,1750.0 2260.8,1730.4 2262.6,1710.7 2260.0,1691.1 2259.0,1671.4 2260.2,1651.7 2258.8,1632.1 2259.4,1612.4 2259.4,1592.8 2259.0,1573.1 2261.3,1553.4 2261.1,1533.8 2263.4,1514.1 2264.0,1494.5 2265.7,1474.8 2267.7,1455.2 2268.6,1435.5 2268.6,1415.8 2267.5,1396.2 2266.2,1376.5 2265.4,1356.9 2262.7,1337.2 2260.1,1317.5 2258.0,1297.9 2257.1,1278.2 2255.5,1258.6 2253.7,1238.9 2254.7,1219.2 2251.2,1199.6 2251.7,1179.9 2251.7,1160.3 2251.0,1140.6 2250.7,1120.9 2250.4,1101.3 2249.5,1081.6 2251.5,1062.0 2252.3,1042.3 2250.2,1022.6 2254.2,1003.0 2249.7,983.3 2252.7,963.7 2253.2,944.0 2252.1,924.3 2254.1,904.7 2250.9,885.0 2251.6,865.4 2249.5,845.7 2251.3,826.0 2250.4,806.4 2249.9,786.7 2254.5,767.1 2249.7,747.4 2248.5,727.7 2261.8,708.1 2245.8,688.4 2251.7,668.8 2256.4,649.1 2253.5,629.5 2246.8,609.8 2248.2,590.1 2248.9,570.5 2257.6,550.8 2247.4,531.2 2249.8,511.5 2252.8,491.8 2259.5,472.2 2238.3,452.5 2255.6,432.9 2239.1,413.2 2277.5,393.5 2258.2,373.9 2260.1,354.2 2249.1,334.6 2262.8,314.9 2227.8,295.2 2269.4,275.6 2232.6,255.9 2250.4,236.3 2249.5,216.6" stroke="#902823"/>
<polyline points="2253.6,1868.0 2271.8,1848.3 2258.9,1828.7 2268.1,1809.0 2264.1,1789.4 2257.0,1769.7 2268.0,1750.0 2256.4,1730.4 2259.9,1710.7 2256.5,1691.1 2258.7,1671.4 2256.8,1651.7 2257.8,1632.1 2256.4,1612.4 2256.2,1592.8 2256.4,1573.1 2257.2,1553.4 2258.6,1533.8 2258.8,1514.1 2261.1,1494.5 2262.0,1474.8 2263.6,1455.2 2264.0,1435.5 2264.2,1415.8 2264.2,1396.2 2262.5,1376.5 2261.9,1356.9 2259.5,1337.2 2258.2,1317.5 2255.4,1297.9 2254.5,1278.2 2255.7,1258.6 2253.8,1238.9 2253.4,1219.2 2253.7,1199.6 2252.4,1179.9 2252.2,1160.3 2252.3,1140.6 2251.7,1120.9 2250.1,1101.3 2251.5,1081.6 2251.6,1062.0 2249.2,1042.3 2250.6,1022.6 2250.2,1003.0 2252.2,983.3 2251.7,963.7 2251.7,944.0 2249.9,924.3 2252.4,904.7 2250.9,885.0 2250.0,865.4 2253.3,845.7 2250.0,826.0 2249.0,806.4 2254.4,786.7 2248.0,767.1 2253.1,747.4 2245.0,727.7 2252.9,708.1 2246.0,688.4 2249.3,668.8 2245.1,649.1 2259.8,629.5 2245.6,609.8 2253.8,590.1 2253.5,570.5 2249.2,550.8 2254.6,531.2 2242.9,511.5 2258.0,491.8 2247.4,472.2 2258.7,452.5 2251.2,432.9 2242.5,413.2 2242.0,393.5 2249.2,373.9 2261.9,354.2 2252.8,334.6 2256.8,314.9 2229.5,295.2 2234.0,275.6 2254.9,255.9 2248.7,236.3 2248.3,216.6" stroke="#a2332a"/>
<polyline points="2265.2,1868.0 2256.1,1848.3 2269.9,1828.7 2260.7,1809.0 2263.6,1789.4 2260.5,1769.7 2268.2,1750.0 2260.2,1730.4 2260.5,1710.7 2257.8,1691.1 2257.3,1671.4 2256.8,1651.7 2256.7,1632.1 2256.9,1612.4 2257.6,1592.8 2258.3,1573.1 2258.0,1553.4 2258.3,1533.8 2259.4,1514.1 2259.7,1494.5 2261.4,1474.8 2261.1,1455.2 2263.8,1435.5 2264.2,1415.8 2262.0,1396.2 2260.6,1376.5 2259.3,1356.9 2257.2,1337.2 2255.4,1317.5 2254.1,1297.9 2252.8,1278.2 2251.8,1258.6 2252.7,1238.9 2250.1,1219.2 2250.3,1199.6 2250.1,1179.9 2249.7,1160.3 2250.3,1140.6 2251.1,1120.9 2251.5,1101.3 2250.4,1081.6 2248.4,1062.0 2252.0,1042.3 2250.7,1022.6 2252.6,1003.0 2250.8,983.3 2253.6,963.7 2250.4,944.0 2252.1,924.3 2250.7,904.7 2246.8,885.0 2252.6,865.4 2249.9,845.7 2249.5,826.0 2252.6,806.4 2250.8,786.7 2249.8,767.1 2251.7,747.4 2250.9,727.7 2252.3,708.1 2249.8,688.4 2254.7,668.8 2244.6,649.1 2253.5,629.5 2244.0,609.8 2252.5,590.1 2252.4,570.5 2250.8,550.8 2251.0,531.2 2251.8,511.5 2260.2,491.8 2239.8,472.2 2263.7,452.5 2235.3,432.9 2257.3,413.2 2252.0,393.5 2245.8,373.9 2258.9,354.2 2258.1,334.6 2239.2,314.9 2259.4,295.2 2247.2,275.6 2235.0,255.9 2260.1,236.3 2240.4,216.6" stroke="#b53d32"/>
<polyline points="2247.0,1868.0 2263.8,1848.3 2265.5,1828.7 2256.1,1809.0 2260.5,1789.4 2218.3,1769.7 2328.3,1750.0 2279.4,1730.4 2262.8,1710.7 2258.3,1691.1 2256.9,1671.4 2256.7,1651.7 2256.4,1632.1 2257.5,1612.4 2257.1,1592.8 2260.1,1573.1 2258.7,1553.4 2260.1,1533.8 2261.2,1514.1 2264.1,1494.5 2262.9,1474.8 2264.7,1455.2 2264.3,1435.5 2264.7,1415.8 2262.5,1396.2 2261.1,1376.5 2257.4,1356.9 2256.5,1337.2 2255.6,1317.5 2252.1,1297.9 2252.0,1278.2 2251.1,1258.6 2250.1,1238.9 2251.6,1219.2 2250.9,1199.6 2250.1,1179.9 2249.9,1160.3 2251.4,1140.6 2250.5,1120.9 2251.0,1101.3 2250.3,1081.6 2249.4,1062.0 2250.2,1042.3 2247.7,1022.6 2251.8,1003.0 2249.0,983.3 2251.6,963.7 2250.4,944.0 2248.9,924.3 2249.5,904.7 2248.3,885.0 2246.9,865.4 2251.1,845.7 2248.9,826.0 2246.4,806.4 2251.6,786.7 2247.4,767.1 2250.5,747.4 2246.1,727.7 2245.4,708.1 2253.8,688.4 2249.8,668.8 2249.3,649.1 2248.3,629.5 2249.8,609.8 2250.2,590.1 2249.7,570.5 2244.4,550.8 2259.4,531.2 2240.8,511.5 2256.0,491.8 2248.1,472.2 2255.5,452.5 2238.3,432.9 2269.5,413.2 2249.8,393.5 2260.4,373.9 2259.8,354.2 2239.8,334.6 2224.7,314.9 2267.0,295.2 2258.5,275.6 2261.6,255.9 2240.6,236.3 2255.5,216.6" stroke="#c74739"/>
<polyline points="2262.3,1868.0 2267.6,1848.3 2255.2,1828.7 2278.7,1809.0 2259.4,1789.4 2266.1,1769.7 2235.0,1750.0 2308.3,1730.4 2263.9,1710.7 2259.1,1691.1 2258.8,1671.4 2259.1,1651.7 2258.5,1632.1 2258.5,1612.4 2259.9,1592.8 2259.1,1573.1 2260.2,1553.4 2260.9,1533.8 2261.1,1514.1 2263.6,1494.5 2262.8,1474.8 2264.6,1455.2 2263.9,1435.5 2265.4,1415.8 2262.1,1396.2 2262.1,1376.5 2260.6,1356.9 2258.6,1337.2 2255.4,1317.5 2254.0,1297.9 2253.3,1278.2 2253.4,1258.6 2252.3,1238.9 2251.6,1219.2 2251.9,1199.6 2252.1,1179.9 2252.4,1160.3 2252.7,1140.6 2251.2,1120.9 2251.6,1101.3 2249.6,1081.6 2250.4,1062.0 2250.7,1042.3 2249.9,1022.6 2252.0,1003.0 2252.0,983.3 2249.5,963.7 2250.1,944.0 2250.3,924.3 2251.6,904.7 2249.8,885.0 2252.2,865.4 2250.7,845.7 2250.8,826.0 2251.6,806.4 2249.8,786.7 2250.9,767.1 2254.9,747.4 2248.4,727.7 2253.7,708.1 2248.9,688.4 2249.7,668.8 2249.9,649.1 2248.8,629.5 2252.2,609.8 2248.8,590.1 2251.2,570.5 2256.9,550.8 2248.6,531.2 2259.8,511.5 2250.1,491.8 2259.2,472.2 2245.5,452.5 2257.6,432.9 2272.4,413.2 2251.8,393.5 2263.8,373.9 2251.3,354.2 2263.0,334.6 2236.8,314.9 2251.9,295.2 2258.7,275.6 2259.8,255.9 2244.9,236.3 2254.6,216.6" stroke="#da5141"/>
<polyline points="2268.9,1868.0 2259.5,1848.3 2263.6,1828.7 2261.3,1809.0 2269.5,1789.4 2252.7,1769.7 2261.4,1750.0 2260.6,1730.4 2256.1,1710.7 2256.9,1691.1 2257.0,1671.4 2255.8,1651.7 2256.2,1632.1 2256.5,1612.4 2256.0,1592.8 2258.9,1573.1 2256.1,1553.4 2259.1,1533.8 2258.2,1514.1 2260.6,1494.5 2262.0,1474.8 2261.7,1455.2 2264.0,1435.5 2262.5,1415.8 2262.6,1396.2 2259.6,1376.5 2258.3,1356.9 2257.6,1337.2 2254.8,1317.5 2253.5,1297.9 2252.6,1278.2 2252.3,1258.6 2251.6,1238.9 2250.1,1219.2 2249.2,1199.6 2250.0,1179.9 2249.2,1160.3 2249.5,1140.6 2248.6,1120.9 2247.7,1101.3 2248.6,1081.6 2250.1,1062.0 2246.8,1042.3 2248.8,1022.6 2247.3,1003.0 2249.6,983.3 2249.2,963.7 2249.7,944.0 2250.1,924.3 2248.9,904.7 2249.1,885.0 2250.2,865.4 2250.3,845.7 2249.6,826.0 2254.2,806.4 2248.1,786.7 2250.8,767.1 2247.5,747.4 2253.2,727.7 2244.2,708.1 2247.0,688.4 2247.7,668.8 2251.7,649.1 2244.7,629.5 2256.5,609.8 2246.8,590.1 2245.5,570.5 2251.1,550.8 2257.9,531.2 2242.4,511.5 2243.9,491.8 2266.1,472.2 2241.2,452.5 2243.2,432.9 2274.3,413.2 2230.9,393.5 2252.5,373.9 2239.1,354.2 2266.1,334.6 2236.1,314.9 2275.3,295.2 2228.8,275.6 2232.8,255.9 2272.2,236.3 2253.9,216.6" stroke="#ec5b48"/>
</g></g>
<rect x="2138.3" y="216.6" width="1222.4" height="1651.4" fill="none" stroke="#fff" stroke-width="5"/>
<path d="M2135.8 1789.4h-9.3M2135.8 1592.8h-9.3M2135.8 1396.2h-9.3M2135.8 1199.6h-9.3M2135.8 1003.0h-9.3M2135.8 806.4h-9.3M2135.8 609.8h-9.3M2135.8 413.2h-9.3M2135.8 216.6h-9.3M2249.4 1870.5v9.3M2471.7 1870.5v9.3M2693.9 1870.5v9.3M2916.2 1870.5v9.3M3138.4 1870.5v9.3M3360.7 1870.5v9.3" stroke="#fff" stroke-width="3.3" fill="none"/>
<rect x="16.8" y="729.6" width="421.5" height="955.9" rx="7" ry="7" fill="#000" stroke="#a3a3a3" stroke-width="3.3"/>
<rect x="27" y="756.0" width="90" height="10" fill="#0a486f"/>
<rect x="27" y="815.0" width="90" height="10" fill="#094d76"/>
<rect x="27" y="874.0" width="90" height="10" fill="#09517c"/>
<rect x="27" y="933.0" width="90" height="10" fill="#085683"/>
<rect x="27" y="992.0" width="90" height="10" fill="#085b8a"/>
<rect x="27" y="1051.0" width="90" height="10" fill="#076090"/>
<rect x="27" y="1110.0" width="90" height="10" fill="#076497"/>
<rect x="27" y="1169.0" width="90" height="10" fill="#06699e"/>
<rect x="27" y="1228.0" width="90" height="10" fill="#066ea4"/>
<rect x="27" y="1287.0" width="90" height="10" fill="#0573ab"/>
<rect x="27" y="1346.0" width="90" height="10" fill="#0577b2"/>
<rect x="27" y="1405.0" width="90" height="10" fill="#047cb8"/>
<rect x="27" y="1464.0" width="90" height="10" fill="#0481bf"/>
<rect x="27" y="1523.0" width="90" height="10" fill="#0386c6"/>
<rect x="27" y="1582.0" width="90" height="10" fill="#038acc"/>
<rect x="27" y="1641.0" width="90" height="10" fill="#028fd3"/>
<rect x="3380.6" y="906.6" width="417.6" height="601.9" rx="7" ry="7" fill="#000" stroke="#a3a3a3" stroke-width="3.3"/>
<rect x="3391" y="933.0" width="90" height="10" fill="#460005"/>
<rect x="3391" y="992.0" width="90" height="10" fill="#580a0c"/>
<rect x="3391" y="1051.0" width="90" height="10" fill="#6b1414"/>
<rect x="3391" y="1110.0" width="90" height="10" fill="#7d1e1b"/>
<rect x="3391" y="1169.0" width="90" height="10" fill="#902823"/>
<rect x="3391" y="1228.0" width="90" height="10" fill="#a2332a"/>
<rect x="3391" y="1287.0" width="90" height="10" fill="#b53d32"/>
<rect x="3391" y="1346.0" width="90" height="10" fill="#c74739"/>
<rect x="3391" y="1405.0" width="90" height="10" fill="#da5141"/>
<rect x="3391" y="1464.0" width="90" height="10" fill="#ec5b48"/>
<path d="M39.9 1980.2H120.3" stroke="#fff" stroke-width="10" stroke-dasharray="37 16" fill="none"/>
<path d="M39.9 2039.9H120.3" stroke="#fff" stroke-width="10" stroke-dasharray="10.4 16.2" fill="none"/>
<rect x="40.5" y="2085.4" width="80" height="28" fill="#686b70" stroke="#9b9b9d" stroke-width="3.3"/>
<g font-family='"DejaVu Sans", "Liberation Sans", sans-serif' opacity="0.999" stroke-linejoin="round">
<text><tspan x="797.35" y="102.00" textLength="223.35" lengthAdjust="spacingAndGlyphs" font-size="76.82" font-weight="bold" fill="#fff">SAGE</tspan> <tspan x="1047.79" y="100.20" textLength="129.98" lengthAdjust="spacingAndGlyphs" font-size="71.88" font-weight="bold" style='font-family:"DejaVu Sans Mono", "Liberation Mono", monospace' stroke="#fff" stroke-width="3.60" fill="#fff">III</tspan><tspan x="1179.60" y="102.00" textLength="47.30" lengthAdjust="spacingAndGlyphs" font-size="76.82" font-weight="bold" fill="#fff">/</tspan><tspan x="1226.09" y="100.20" textLength="48.40" lengthAdjust="spacingAndGlyphs" font-size="71.88" font-weight="bold" style='font-family:"DejaVu Sans Mono", "Liberation Mono", monospace' stroke="#fff" stroke-width="3.60" fill="#fff">I</tspan><tspan x="1270.69" y="102.00" textLength="107.44" lengthAdjust="spacingAndGlyphs" font-size="76.82" font-weight="bold" fill="#fff">SS</tspan> <tspan x="1396.01" y="102.00" textLength="272.04" lengthAdjust="spacingAndGlyphs" font-size="76.82" font-weight="bold" fill="#fff">869nm</tspan> <tspan x="1693.20" y="102.00" textLength="862.88" lengthAdjust="spacingAndGlyphs" font-size="76.82" font-weight="bold" fill="#fff">Aerosol-to-Molecular</tspan> <tspan x="2578.19" y="102.00" textLength="411.47" lengthAdjust="spacingAndGlyphs" font-size="76.82" font-weight="bold" fill="#fff">Extinction</tspan> <tspan x="3015.59" y="102.00" textLength="217.25" lengthAdjust="spacingAndGlyphs" font-size="76.82" font-weight="bold" fill="#fff">Ratio</tspan></text>
<text><tspan x="1761.69" y="189.80" textLength="94.22" lengthAdjust="spacingAndGlyphs" font-size="76.82" font-weight="bold" fill="#fff">31</tspan> <tspan x="1882.06" y="189.80" textLength="171.98" lengthAdjust="spacingAndGlyphs" font-size="76.82" font-weight="bold" fill="#fff">May</tspan> <tspan x="2075.81" y="189.80" textLength="195.44" lengthAdjust="spacingAndGlyphs" font-size="76.82" font-weight="bold" fill="#fff">2019</tspan></text>
<text x="1156.02" y="195.00" textLength="252.43" lengthAdjust="spacingAndGlyphs" font-size="59.67" font-weight="bold" fill="#fff">Sunrise</text>
<text x="2633.40" y="195.00" textLength="226.71" lengthAdjust="spacingAndGlyphs" font-size="59.67" font-weight="bold" fill="#fff">Sunset</text>
<text><tspan x="733.31" y="2001.09" textLength="615.53" lengthAdjust="spacingAndGlyphs" font-size="54.97" stroke="#fff" stroke-width="1.43" fill="#fff">Aerosol-To-Molecular</tspan> <tspan x="1370.96" y="2001.09" textLength="288.56" lengthAdjust="spacingAndGlyphs" font-size="54.97" stroke="#fff" stroke-width="1.43" fill="#fff">Extinction</tspan> <tspan x="1679.33" y="2001.09" textLength="154.83" lengthAdjust="spacingAndGlyphs" font-size="54.97" stroke="#fff" stroke-width="1.43" fill="#fff">Ratio</tspan></text>
<text><tspan x="2199.11" y="2001.09" textLength="615.53" lengthAdjust="spacingAndGlyphs" font-size="54.97" stroke="#fff" stroke-width="1.43" fill="#fff">Aerosol-To-Molecular</tspan> <tspan x="2836.76" y="2001.09" textLength="288.56" lengthAdjust="spacingAndGlyphs" font-size="54.97" stroke="#fff" stroke-width="1.43" fill="#fff">Extinction</tspan> <tspan x="3145.13" y="2001.09" textLength="154.83" lengthAdjust="spacingAndGlyphs" font-size="54.97" stroke="#fff" stroke-width="1.43" fill="#fff">Ratio</tspan></text>
<text transform="translate(556.98,1232.78) rotate(-90)" x="0.00" y="0" textLength="381.46" lengthAdjust="spacingAndGlyphs" font-size="55.63" stroke="#fff" stroke-width="1.45" fill="#fff">Altitude [km]</text>
<text transform="translate(2022.78,1232.78) rotate(-90)" x="0.00" y="0" textLength="381.46" lengthAdjust="spacingAndGlyphs" font-size="55.63" stroke="#fff" stroke-width="1.45" fill="#fff">Altitude [km]</text>
<text x="595.07" y="1805.61" textLength="53.11" lengthAdjust="spacingAndGlyphs" font-size="42.38" stroke="#fff" stroke-width="1.10" fill="#fff">10</text>
<text x="596.05" y="1609.02" textLength="53.11" lengthAdjust="spacingAndGlyphs" font-size="42.38" stroke="#fff" stroke-width="1.10" fill="#fff">15</text>
<text x="595.07" y="1412.42" textLength="53.11" lengthAdjust="spacingAndGlyphs" font-size="42.38" stroke="#fff" stroke-width="1.10" fill="#fff">20</text>
<text x="596.05" y="1215.83" textLength="53.11" lengthAdjust="spacingAndGlyphs" font-size="42.38" stroke="#fff" stroke-width="1.10" fill="#fff">25</text>
<text x="595.07" y="1019.23" textLength="53.11" lengthAdjust="spacingAndGlyphs" font-size="42.38" stroke="#fff" stroke-width="1.10" fill="#fff">30</text>
<text x="596.05" y="822.63" textLength="53.11" lengthAdjust="spacingAndGlyphs" font-size="42.38" stroke="#fff" stroke-width="1.10" fill="#fff">35</text>
<text x="595.07" y="626.04" textLength="53.11" lengthAdjust="spacingAndGlyphs" font-size="42.38" stroke="#fff" stroke-width="1.10" fill="#fff">40</text>
<text x="596.05" y="429.44" textLength="53.11" lengthAdjust="spacingAndGlyphs" font-size="42.38" stroke="#fff" stroke-width="1.10" fill="#fff">45</text>
<text x="595.07" y="232.85" textLength="53.11" lengthAdjust="spacingAndGlyphs" font-size="42.38" stroke="#fff" stroke-width="1.10" fill="#fff">50</text>
<text x="770.31" y="1926.65" textLength="26.56" lengthAdjust="spacingAndGlyphs" font-size="42.38" stroke="#fff" stroke-width="1.10" fill="#fff">0</text>
<text x="978.76" y="1926.65" textLength="53.11" lengthAdjust="spacingAndGlyphs" font-size="42.38" stroke="#fff" stroke-width="1.10" fill="#fff">20</text>
<text x="1201.47" y="1926.65" textLength="53.11" lengthAdjust="spacingAndGlyphs" font-size="42.38" stroke="#fff" stroke-width="1.10" fill="#fff">40</text>
<text x="1423.69" y="1926.65" textLength="53.11" lengthAdjust="spacingAndGlyphs" font-size="42.38" stroke="#fff" stroke-width="1.10" fill="#fff">60</text>
<text x="1645.91" y="1926.65" textLength="53.11" lengthAdjust="spacingAndGlyphs" font-size="42.38" stroke="#fff" stroke-width="1.10" fill="#fff">80</text>
<text x="1853.86" y="1926.65" textLength="79.67" lengthAdjust="spacingAndGlyphs" font-size="42.38" stroke="#fff" stroke-width="1.10" fill="#fff">100</text>
<text x="2060.87" y="1805.61" textLength="53.11" lengthAdjust="spacingAndGlyphs" font-size="42.38" stroke="#fff" stroke-width="1.10" fill="#fff">10</text>
<text x="2061.85" y="1609.02" textLength="53.11" lengthAdjust="spacingAndGlyphs" font-size="42.38" stroke="#fff" stroke-width="1.10" fill="#fff">15</text>
<text x="2060.87" y="1412.42" textLength="53.11" lengthAdjust="spacingAndGlyphs" font-size="42.38" stroke="#fff" stroke-width="1.10" fill="#fff">20</text>
<text x="2061.85" y="1215.83" textLength="53.11" lengthAdjust="spacingAndGlyphs" font-size="42.38" stroke="#fff" stroke-width="1.10" fill="#fff">25</text>
<text x="2060.87" y="1019.23" textLength="53.11" lengthAdjust="spacingAndGlyphs" font-size="42.38" stroke="#fff" stroke-width="1.10" fill="#fff">30</text>
<text x="2061.85" y="822.63" textLength="53.11" lengthAdjust="spacingAndGlyphs" font-size="42.38" stroke="#fff" stroke-width="1.10" fill="#fff">35</text>
<text x="2060.87" y="626.04" textLength="53.11" lengthAdjust="spacingAndGlyphs" font-size="42.38" stroke="#fff" stroke-width="1.10" fill="#fff">40</text>
<text x="2061.85" y="429.44" textLength="53.11" lengthAdjust="spacingAndGlyphs" font-size="42.38" stroke="#fff" stroke-width="1.10" fill="#fff">45</text>
<text x="2060.87" y="232.85" textLength="53.11" lengthAdjust="spacingAndGlyphs" font-size="42.38" stroke="#fff" stroke-width="1.10" fill="#fff">50</text>
<text x="2236.13" y="1926.65" textLength="26.56" lengthAdjust="spacingAndGlyphs" font-size="42.38" stroke="#fff" stroke-width="1.10" fill="#fff">0</text>
<text x="2444.61" y="1926.65" textLength="53.11" lengthAdjust="spacingAndGlyphs" font-size="42.38" stroke="#fff" stroke-width="1.10" fill="#fff">20</text>
<text x="2667.36" y="1926.65" textLength="53.11" lengthAdjust="spacingAndGlyphs" font-size="42.38" stroke="#fff" stroke-width="1.10" fill="#fff">40</text>
<text x="2889.62" y="1926.65" textLength="53.11" lengthAdjust="spacingAndGlyphs" font-size="42.38" stroke="#fff" stroke-width="1.10" fill="#fff">60</text>
<text x="3111.87" y="1926.65" textLength="53.11" lengthAdjust="spacingAndGlyphs" font-size="42.38" stroke="#fff" stroke-width="1.10" fill="#fff">80</text>
<text x="3319.86" y="1926.65" textLength="79.67" lengthAdjust="spacingAndGlyphs" font-size="42.38" stroke="#fff" stroke-width="1.10" fill="#fff">100</text>
<text x="144.79" y="774.51" textLength="272.31" lengthAdjust="spacingAndGlyphs" font-size="37.35" stroke="#fff" stroke-width="0.97" fill="#fff">2019053101SR</text>
<text x="144.79" y="833.51" textLength="272.31" lengthAdjust="spacingAndGlyphs" font-size="37.35" stroke="#fff" stroke-width="0.97" fill="#fff">2019053104SR</text>
<text x="144.79" y="892.51" textLength="272.31" lengthAdjust="spacingAndGlyphs" font-size="37.35" stroke="#fff" stroke-width="0.97" fill="#fff">2019053107SR</text>
<text x="144.79" y="951.51" textLength="272.31" lengthAdjust="spacingAndGlyphs" font-size="37.35" stroke="#fff" stroke-width="0.97" fill="#fff">2019053110SR</text>
<text x="144.79" y="1010.51" textLength="272.31" lengthAdjust="spacingAndGlyphs" font-size="37.35" stroke="#fff" stroke-width="0.97" fill="#fff">2019053113SR</text>
<text x="144.79" y="1069.51" textLength="272.31" lengthAdjust="spacingAndGlyphs" font-size="37.35" stroke="#fff" stroke-width="0.97" fill="#fff">2019053116SR</text>
<text x="144.79" y="1128.51" textLength="272.31" lengthAdjust="spacingAndGlyphs" font-size="37.35" stroke="#fff" stroke-width="0.97" fill="#fff">2019053119SR</text>
<text x="144.79" y="1187.51" textLength="272.31" lengthAdjust="spacingAndGlyphs" font-size="37.35" stroke="#fff" stroke-width="0.97" fill="#fff">2019053122SR</text>
<text x="144.79" y="1246.51" textLength="272.31" lengthAdjust="spacingAndGlyphs" font-size="37.35" stroke="#fff" stroke-width="0.97" fill="#fff">2019053125SR</text>
<text x="144.79" y="1305.51" textLength="272.31" lengthAdjust="spacingAndGlyphs" font-size="37.35" stroke="#fff" stroke-width="0.97" fill="#fff">2019053128SR</text>
<text x="144.79" y="1364.51" textLength="272.31" lengthAdjust="spacingAndGlyphs" font-size="37.35" stroke="#fff" stroke-width="0.97" fill="#fff">2019053131SR</text>
<text x="144.79" y="1423.51" textLength="272.31" lengthAdjust="spacingAndGlyphs" font-size="37.35" stroke="#fff" stroke-width="0.97" fill="#fff">2019053134SR</text>
<text x="144.79" y="1482.51" textLength="272.31" lengthAdjust="spacingAndGlyphs" font-size="37.35" stroke="#fff" stroke-width="0.97" fill="#fff">2019053137SR</text>
<text x="144.79" y="1541.51" textLength="272.31" lengthAdjust="spacingAndGlyphs" font-size="37.35" stroke="#fff" stroke-width="0.97" fill="#fff">2019053140SR</text>
<text x="144.79" y="1600.51" textLength="272.31" lengthAdjust="spacingAndGlyphs" font-size="37.35" stroke="#fff" stroke-width="0.97" fill="#fff">2019053143SR</text>
<text x="144.79" y="1659.51" textLength="272.31" lengthAdjust="spacingAndGlyphs" font-size="37.35" stroke="#fff" stroke-width="0.97" fill="#fff">2019053146SR</text>
<text x="3508.99" y="951.51" textLength="270.18" lengthAdjust="spacingAndGlyphs" font-size="37.35" stroke="#fff" stroke-width="0.97" fill="#fff">2019053103SS</text>
<text x="3508.99" y="1010.51" textLength="270.18" lengthAdjust="spacingAndGlyphs" font-size="37.35" stroke="#fff" stroke-width="0.97" fill="#fff">2019053115SS</text>
<text x="3508.99" y="1069.51" textLength="270.18" lengthAdjust="spacingAndGlyphs" font-size="37.35" stroke="#fff" stroke-width="0.97" fill="#fff">2019053124SS</text>
<text x="3508.99" y="1128.51" textLength="270.18" lengthAdjust="spacingAndGlyphs" font-size="37.35" stroke="#fff" stroke-width="0.97" fill="#fff">2019053127SS</text>
<text x="3508.99" y="1187.51" textLength="270.18" lengthAdjust="spacingAndGlyphs" font-size="37.35" stroke="#fff" stroke-width="0.97" fill="#fff">2019053130SS</text>
<text x="3508.99" y="1246.51" textLength="270.18" lengthAdjust="spacingAndGlyphs" font-size="37.35" stroke="#fff" stroke-width="0.97" fill="#fff">2019053133SS</text>
<text x="3508.99" y="1305.51" textLength="270.18" lengthAdjust="spacingAndGlyphs" font-size="37.35" stroke="#fff" stroke-width="0.97" fill="#fff">2019053136SS</text>
<text x="3508.99" y="1364.51" textLength="270.18" lengthAdjust="spacingAndGlyphs" font-size="37.35" stroke="#fff" stroke-width="0.97" fill="#fff">2019053139SS</text>
<text x="3508.99" y="1423.51" textLength="270.18" lengthAdjust="spacingAndGlyphs" font-size="37.35" stroke="#fff" stroke-width="0.97" fill="#fff">2019053142SS</text>
<text x="3508.99" y="1482.51" textLength="270.18" lengthAdjust="spacingAndGlyphs" font-size="37.35" stroke="#fff" stroke-width="0.97" fill="#fff">2019053145SS</text>
<text x="152.51" y="1993.01" textLength="348.22" lengthAdjust="spacingAndGlyphs" font-size="37.48" stroke="#fff" stroke-width="0.97" fill="#fff">Mean Tropopause</text>
<text x="152.51" y="2052.71" textLength="384.22" lengthAdjust="spacingAndGlyphs" font-size="37.48" stroke="#fff" stroke-width="0.97" fill="#fff">Median Tropopause</text>
<text x="155.74" y="2112.51" textLength="364.88" lengthAdjust="spacingAndGlyphs" font-size="37.48" stroke="#fff" stroke-width="0.97" fill="#fff">Tropopause Range</text>
<text x="3268.71" y="2037.42" textLength="567.90" lengthAdjust="spacingAndGlyphs" font-size="29.40" stroke="#808080" stroke-width="0.76" fill="#808080">SAGE III/ISS Mission | NASA LaRC</text>
<text x="3312.23" y="2075.92" textLength="526.45" lengthAdjust="spacingAndGlyphs" font-size="29.40" stroke="#808080" stroke-width="0.76" fill="#808080">Preparer: Kevin R. Leavor (AMA)</text>
<text x="3390.25" y="2113.02" textLength="445.13" lengthAdjust="spacingAndGlyphs" font-size="29.40" stroke="#808080" stroke-width="0.76" fill="#808080">Generated 2025-07-17 22:25</text>
<text x="3533.44" y="2150.32" textLength="302.00" lengthAdjust="spacingAndGlyphs" font-size="29.40" stroke="#808080" stroke-width="0.76" fill="#808080">Data Version: 6.0.0</text>
</g>
<g transform="translate(3480,0) scale(0.276075)">
<path d="M50.7 798.7V183.6A119.5 119.5 0 0 1 170.2 64.1H1148.2A119.5 119.5 0 0 1 1267.7 183.6V798.7A608.5 621.0 0 0 1 50.7 798.7Z" fill="#e65c4c"/>
<path d="M77.7 798.7V183.6A92.5 92.5 0 0 1 170.2 91.1H1148.2A92.5 92.5 0 0 1 1240.7 183.6V798.7A581.5 594.0 0 0 1 77.7 798.7Z" fill="#0a5287"/>
<circle cx="659.2" cy="798.7" r="514.4" fill="#c9cedb"/>
<clipPath id="ringclip"><circle cx="659.2" cy="798.7" r="458.6"/></clipPath>
<circle cx="659.2" cy="798.7" r="458.6" fill="#0a5287"/>
<g clip-path="url(#ringclip)">
<circle cx="-1543.1" cy="2515.0" r="2826.6" fill="none" stroke="#186fa5" stroke-width="54"/>
<circle cx="-1543.1" cy="2515.0" r="2799.6" fill="#0a5287" stroke="#dfeaf5" stroke-width="4"/>
<clipPath id="earthclip"><circle cx="-1543.1" cy="2515.0" r="2797.6"/></clipPath><g clip-path="url(#earthclip)">
<polygon points="444.7,699.6 479.7,664.6 504.7,632.1 522.2,649.6 542.2,679.6 564.7,684.6 599.7,724.6 634.7,774.6 659.7,814.6 669.7,849.6 662.2,899.6 674.7,929.6 689.7,954.6 669.7,949.6 649.7,937.1 624.7,944.6 599.7,974.6 587.2,1004.6 594.7,1044.6 609.7,1084.6 634.7,1102.1 654.7,1094.6 662.2,1059.6 669.7,1034.6 682.2,1054.6 694.7,1094.6 719.7,1119.6 734.7,1134.6 714.7,1129.6 684.7,1119.6 654.7,1124.6 624.7,1139.6 584.7,1134.6 559.7,1114.6 524.7,1079.6 489.7,1049.6 464.7,1029.6 444.7,1019.6" fill="#589f68" stroke="#589f68" stroke-width="6" stroke-linejoin="round"/>
<polyline points="469.7,1052.1 504.7,1079.6 537.2,1117.1" fill="none" stroke="#589f68" stroke-width="10.0" stroke-linecap="round"/>
<polygon points="784.7,1079.6 794.7,1059.6 824.7,1052.1 839.7,1059.6 859.7,1094.6 884.7,1134.6 919.7,1179.6 894.7,1199.6 859.7,1217.1 814.7,1232.1 779.7,1239.6 780.7,1179.6 777.2,1144.6 759.7,1132.1 779.7,1114.6" fill="#589f68" stroke="#589f68" stroke-width="6" stroke-linejoin="round"/>
<polygon points="509.7,724.6 529.7,734.6 549.7,754.6 564.7,744.6 584.7,754.6 599.7,744.6 619.7,754.6 624.7,769.6 609.7,789.6 599.7,814.6 584.7,799.6 569.7,819.6 554.7,799.6 549.7,779.6 529.7,769.6 514.7,779.6 509.7,754.6" fill="#0a5287"/>
<polygon points="524.7,644.6 549.7,659.6 557.2,679.6 539.7,677.1 527.2,664.6" fill="#0a5287"/>
<polygon points="649.7,799.6 662.2,814.6 667.2,839.6 654.7,829.6" fill="#0a5287"/>
</g>
<path d="M852.2 697.1L602.4 605.7" stroke="#e8f1fa" stroke-width="3" fill="none"/>
<path d="M852.2 697.1L637.8 580.4" stroke="#e8f1fa" stroke-width="3" fill="none"/>
<path d="M852.2 697.1L684.7 819.6" stroke="#e8f1fa" stroke-width="4.5" fill="none"/>
<path d="M852.2 697.1L704.7 844.6" stroke="#e8f1fa" stroke-width="4.5" fill="none"/>
<path d="M852.2 697.1L879.7 934.6" stroke="#e8f1fa" stroke-width="3" fill="none"/>
<path d="M852.2 697.1L917.2 929.6" stroke="#e8f1fa" stroke-width="3" fill="none"/>
<path d="M445.5 552.5L511.3 613.3" stroke="#e8f1fa" stroke-width="3" fill="none"/>
<circle cx="570.5" cy="522" r="86" fill="#d3d6df"/>
<clipPath id="moonclip"><circle cx="570.5" cy="522" r="86"/></clipPath><g clip-path="url(#moonclip)">
<circle cx="577.5" cy="516" r="86" fill="#f4f4f5"/>
<ellipse cx="532.5" cy="494" rx="16" ry="20" fill="#b9bdc8"/>
<ellipse cx="558.5" cy="530" rx="22" ry="26" fill="#b9bdc8"/>
<ellipse cx="598.5" cy="504" rx="20" ry="16" fill="#b9bdc8"/>
<ellipse cx="594.5" cy="544" rx="16" ry="18" fill="#b9bdc8"/>
<ellipse cx="540.5" cy="556" rx="12" ry="10" fill="#b9bdc8"/>
<ellipse cx="574.5" cy="476" rx="14" ry="9" fill="#b9bdc8"/>
</g>
<circle cx="927.2" cy="1018.6" r="83" fill="#d5d8e2"/>
<clipPath id="sunclip"><circle cx="927.2" cy="1018.6" r="83"/></clipPath>
<g clip-path="url(#sunclip)"><polygon points="854.7,939.6 927.2,1109.6 1134.7,1109.6 1134.7,879.6 854.7,879.6" fill="#ffdf9e"/></g>
<path d="M772.0 388.9L777.2 416.6L805.0 421.9L777.2 427.2L772.0 454.9L766.7 427.2L739.0 421.9L766.7 416.6Z" fill="#ffe9b0"/>
<path d="M724.9 442.4L728.1 459.2L744.9 462.4L728.1 465.6L724.9 482.4L721.7 465.6L704.9 462.4L721.7 459.2Z" fill="#fff"/>
<path d="M808.9 460.6L811.3 473.2L823.9 475.6L811.3 478.0L808.9 490.6L806.5 478.0L793.9 475.6L806.5 473.2Z" fill="#fff"/>
<polygon points="787.9,626.6 876.4,535.5 883.2,541.7 795.1,633.4" fill="#b7bac1"/><path d="M791.5 630.0L879.8 538.6" stroke="#d9dbe0" stroke-width="2.2"/><polygon points="797.4,635.5 885.3,543.7 892.0,549.9 804.6,642.2" fill="#b7bac1"/><path d="M801.0 638.9L888.7 546.8" stroke="#d9dbe0" stroke-width="2.2"/><polygon points="806.9,644.3 894.2,551.9 900.9,558.2 814.1,651.1" fill="#b7bac1"/><path d="M810.5 647.7L897.5 555.0" stroke="#d9dbe0" stroke-width="2.2"/><polygon points="816.4,653.2 903.0,560.1 909.7,566.4 823.6,659.9" fill="#b7bac1"/><path d="M820.0 656.6L906.4 563.3" stroke="#d9dbe0" stroke-width="2.2"/>
<polygon points="887.9,735.2 980.4,640.2 987.1,646.4 894.6,741.4" fill="#b7bac1"/><path d="M891.2 738.3L983.7 643.3" stroke="#d9dbe0" stroke-width="2.2"/><polygon points="896.7,743.4 989.2,648.4 995.8,654.6 903.3,749.6" fill="#b7bac1"/><path d="M900.0 746.5L992.5 651.5" stroke="#d9dbe0" stroke-width="2.2"/><polygon points="905.4,751.5 997.9,656.5 1004.6,662.7 912.1,757.7" fill="#b7bac1"/><path d="M908.7 754.6L1001.2 659.6" stroke="#d9dbe0" stroke-width="2.2"/><polygon points="914.2,759.6 1006.7,664.6 1013.3,670.8 920.8,765.8" fill="#b7bac1"/><path d="M917.5 762.7L1010.0 667.7" stroke="#d9dbe0" stroke-width="2.2"/>
<path d="M849.8 597.4L951.0 703.4" stroke="#e6ddcf" stroke-width="7"/>
<path d="M864.2 644.4L896.0 614.0" stroke="#efe9df" stroke-width="6"/>
<path d="M870.6 662.7L914.0 621.2" stroke="#efe9df" stroke-width="6"/>
<path d="M879.8 678.1L929.0 631.1" stroke="#efe9df" stroke-width="6"/>
<path d="M899.2 683.9L933.9 650.8" stroke="#efe9df" stroke-width="6"/>
<path d="M856.4 642.0L878.5 665.1" stroke="#efe9df" stroke-width="5"/>
<path d="M906.1 618.8L928.2 641.9" stroke="#efe9df" stroke-width="5"/>
<path d="M882.1 666.0L904.2 689.1" stroke="#efe9df" stroke-width="5"/>
</g>
<clipPath id="skirtclip"><circle cx="659.2" cy="798.7" r="459.6"/></clipPath>
<g clip-path="url(#skirtclip)">
<polygon points="235.7,720.5 274.2,750.7 458.4,761.7 451.2,852.4 458.4,984.4 465.5,1215.2 191.8,1215.2 191.8,874.4 205.5,819.5 218.1,764.5" fill="#cf4a3c"/>
<polygon points="211.0,874.4 238.5,857.9 315.4,1072.3 290.7,1061.3" fill="#8a231c"/>
<polygon points="288.0,814.0 311.6,805.7 364.9,1154.8 340.2,1143.8" fill="#8a231c"/>
<polygon points="348.4,852.4 370.4,844.2 408.9,1176.8 388.5,1171.3" fill="#8a231c"/>
<polygon points="394.0,929.4 411.6,921.1 440.8,1198.7 421.5,1193.2" fill="#8a231c"/>
<polygon points="219.2,764.5 244.0,742.5 274.2,764.5 246.7,852.4 213.7,868.9" fill="#8a231c"/>
<polygon points="440.8,852.4 452.3,852.4 465.5,1204.2 450.1,1199.8" fill="#e7614f"/>
<polygon points="317.1,814.0 340.2,819.5 384.1,1039.3 365.5,1044.8" fill="#e7614f"/>
<polygon points="262.1,852.4 279.7,845.8 329.2,1028.3 312.7,1033.8" fill="#e7614f"/>
</g>
<polygon points="183.5,613.3 147.8,654.5 124.7,742.5 109.3,808.5 82.9,877.2 131.3,864.5 176.4,820.5 203.8,775.5 222.0,698.5 211.0,640.8" fill="#cf4a3c" stroke="#cf4a3c" stroke-width="4" stroke-linejoin="round"/>
<polygon points="167.0,665.5 143.4,764.5 104.9,864.5 164.3,815.1 196.2,742.5 196.2,671.0" fill="#8a231c"/>
<polygon points="183.5,613.3 235.7,572.1 274.2,544.6 312.7,538.0 353.9,599.6 385.2,676.5 439.1,599.6 464.4,618.8 467.7,698.5 459.5,764.5 274.2,757.9 235.7,720.5 219.2,693.0" fill="#cf4a3c" stroke="#cf4a3c" stroke-width="4" stroke-linejoin="round"/>
<polygon points="252.2,605.1 279.7,577.6 304.4,585.8 331.9,665.5 309.9,709.5 279.7,698.5 257.7,665.5" fill="#a5332a"/>
<polygon points="219.2,616.1 244.0,594.1 252.2,665.5 238.5,709.5 222.0,687.5" fill="#e7614f"/>
<polygon points="312.7,720.5 384.1,693.0 450.1,709.5 458.4,759.0 362.2,759.0 296.2,750.7" fill="#b53a30"/>
<polygon points="340.2,693.0 406.1,698.5 439.1,731.5 362.2,734.2" fill="#e7614f"/>
<polygon points="269.8,739.7 384.1,783.7 384.1,809.6 269.8,765.6" fill="#8a4a24"/>
<polyline points="269.8,742.5 384.1,786.5" fill="none" stroke="#c18a4a" stroke-width="5.0"/>
<polygon points="445.4,809.6 429.9,836.4 398.9,836.4 383.4,809.6 398.9,782.7 429.9,782.7" fill="#6b3418" stroke="#b87a3a" stroke-width="6"/>
<polygon points="296.2,528.1 329.2,489.6 367.7,467.6 411.6,462.1 447.4,478.6 461.1,503.4 439.1,495.1 411.6,489.6 389.6,500.6 378.7,528.1 389.6,555.6 417.1,572.1 433.6,580.3 439.1,616.1 433.6,654.5 411.6,688.6 384.1,682.0 364.9,643.5 353.9,594.1 340.2,561.1 312.7,550.1" fill="#f7f5f1" stroke="#f7f5f1" stroke-width="9" stroke-linejoin="round"/>
<polygon points="390.7,498.4 417.1,487.4 441.9,497.9 458.4,517.1 451.2,544.6 439.1,578.7 414.4,571.0 390.7,554.5 379.8,527.0" fill="#e3b27f"/>
<polygon points="410.5,517.1 447.9,527.0 445.7,536.9 410.5,528.1" fill="#5a3320"/>
<polygon points="406.1,569.3 439.1,578.7 439.1,616.1 417.1,605.1" fill="#f7f5f1"/>
<polygon points="384.1,500.6 397.9,495.1 390.7,544.6 382.0,528.1" fill="#c98d5a"/>
<polygon points="449.0,609.5 488.6,618.3 494.1,644.6 461.1,655.6" fill="#8c4a22"/>
<polygon points="464.4,654.5 494.1,643.5 489.7,688.6 464.4,694.1" fill="#e3b27f"/>
<polyline points="198.4,445.7 219.2,599.6 235.7,698.5 257.7,874.4 271.5,929.4 296.2,978.9 302.8,1061.3" fill="none" stroke="#b06a28" stroke-width="15.0" stroke-linecap="round" stroke-linejoin="round"/>
<polyline points="194.9,445.7 215.7,599.6 232.2,698.5 254.2,874.4 268.0,929.4 292.7,978.9 299.3,1061.3" fill="none" stroke="#dba55e" stroke-width="4.0" stroke-linecap="round" stroke-linejoin="round"/>
<circle cx="190.8" cy="407.2" r="38" fill="#f1f2f5"/><circle cx="194.8" cy="404.2" r="32" fill="#cdd1db"/>
<ellipse cx="208.2" cy="671.0" rx="29" ry="30" fill="#e3b27f"/>
<polyline points="217.0,638.0 229.1,676.5 233.5,704.0" fill="none" stroke="#b06a28" stroke-width="15.0" stroke-linecap="butt"/>
<ellipse cx="204.2" cy="679.0" rx="24" ry="17" fill="#e3b27f"/>
<polyline points="186.3,665.5 219.2,684.8" fill="none" stroke="#b9824f" stroke-width="3.0"/>
<text><tspan x="167.3" y="213.3" textLength="637.3" lengthAdjust="spacingAndGlyphs" font-size="148" style='font-family:"Liberation Serif", "DejaVu Serif", serif' font-weight="bold" fill="#fff">SAGE III</tspan> <tspan x="837.4" y="201.1" font-size="107.1" font-weight="bold" style='font-family:"Liberation Serif", "DejaVu Serif", serif' fill="#fff">•</tspan> <tspan x="911.9" y="213.3" textLength="227.2" lengthAdjust="spacingAndGlyphs" font-size="148" style='font-family:"Liberation Serif", "DejaVu Serif", serif' font-weight="bold" fill="#fff">ISS</tspan></text>
<text x="173.5" y="259.0" textLength="628.4" lengthAdjust="spacingAndGlyphs" font-size="28.4" style='font-family:"Liberation Sans", "DejaVu Sans", sans-serif' fill="#dfe8f2">Stratospheric Aerosol and Gas Experiment III</text>
<text><tspan x="928.8" y="259.0" textLength="193.9" lengthAdjust="spacingAndGlyphs" font-size="28.4" style='font-family:"Liberation Sans", "DejaVu Sans", sans-serif' fill="#dfe8f2">International</tspan> <tspan x="917.4" y="299.6" textLength="218.5" lengthAdjust="spacingAndGlyphs" font-size="28.4" style='font-family:"Liberation Sans", "DejaVu Sans", sans-serif' fill="#dfe8f2">Space Station</tspan></text>
<path id="arcp" d="M110.8 937.5A565.7 565.7 0 0 0 1223.1 844.1" fill="none"/>
<text font-size="49.6" font-weight="bold" style='font-family:"Liberation Sans", "DejaVu Sans", sans-serif' fill="#fff"><textPath href="#arcp" textLength="1591.6" lengthAdjust="spacing">BALL • NASA LANGLEY RESEARCH CENTER • TAS-I • ESA</textPath></text>
</g>
</svg></body></html>
